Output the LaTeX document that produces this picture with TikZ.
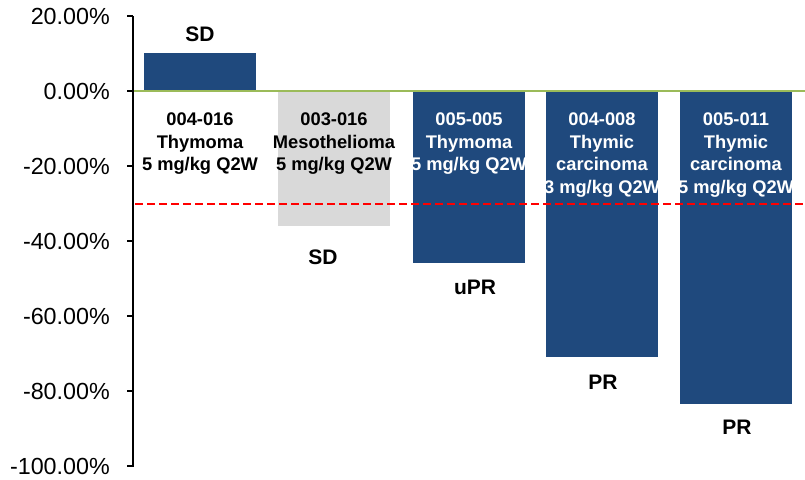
\documentclass[tikz,border=0pt]{standalone}
\usepackage{fontspec}
\setmainfont{Liberation Sans}
\definecolor{barblue}{RGB}{31,73,125}
\definecolor{bargray}{RGB}{217,217,217}
\definecolor{zerogreen}{RGB}{155,187,89}
\definecolor{refred}{RGB}{255,0,0}
\begin{document}
\begin{tikzpicture}[x=1pt,y=-1pt,
  ticklab/.style={anchor=east,inner sep=0pt,font=\fontsize{23.3}{28}\selectfont},
  inlab/.style={anchor=north,inner sep=0pt,align=center,font=\fontsize{18.3}{22.6}\selectfont\bfseries},
  resp/.style={inner sep=0pt,font=\fontsize{21}{25}\selectfont\bfseries},
  bluebar/.style={fill=barblue},
  graybar/.style={fill=bargray}]
\useasboundingbox (0,0) rectangle (805,479);
% bars
\fill[bluebar] (144,52.7) rectangle (255.7,91);
\fill[graybar] (278,91) rectangle (390,225.7);
\fill[bluebar] (413,91) rectangle (524.7,263);
\fill[bluebar] (546,91) rectangle (657.7,357);
\fill[bluebar] (680,91) rectangle (792,403.7);
% zero line and threshold
\draw[zerogreen,line width=2pt] (133,91) -- (805,91);
\draw[refred,line width=1.8pt,dash pattern=on 8pt off 4pt] (135,204) -- (805,204);
% axis
\draw[line width=1.5pt] (133,16) -- (133,467);
\foreach \v/\t [count=\i] in {0/20.00\%,1/0.00\%,2/-20.00\%,3/-40.00\%,4/-60.00\%,5/-80.00\%,6/-100.00\%}{
  \draw[line width=1.5pt] (127,16+75*\v) -- (133,16+75*\v);
  \node[ticklab] (t\i) at (110,16+75*\v) {\t};
}
% labels inside bars
\node[inlab,text=black] (l1) at (200,112.5) {004-016\\Thymoma\\5 mg/kg Q2W};
\node[inlab,text=black] (l2) at (334,112.5) {003-016\\Mesothelioma\\5 mg/kg Q2W};
\node[inlab,text=white] (l3) at (469,112.5) {005-005\\Thymoma\\5 mg/kg Q2W};
\node[inlab,text=white] (l4) at (602,112.5) {004-008\\Thymic\\carcinoma\\3 mg/kg Q2W};
\node[inlab,text=white] (l5) at (736,112.5) {005-011\\Thymic\\carcinoma\\5 mg/kg Q2W};
% response labels
\node[resp] (r1) at (200,34) {SD};
\node[resp] (r2) at (323,257) {SD};
\node[resp] (r3) at (475,287) {uPR};
\node[resp] (r4) at (603,382) {PR};
\node[resp] (r5) at (737,427) {PR};
\end{tikzpicture}
\end{document}
